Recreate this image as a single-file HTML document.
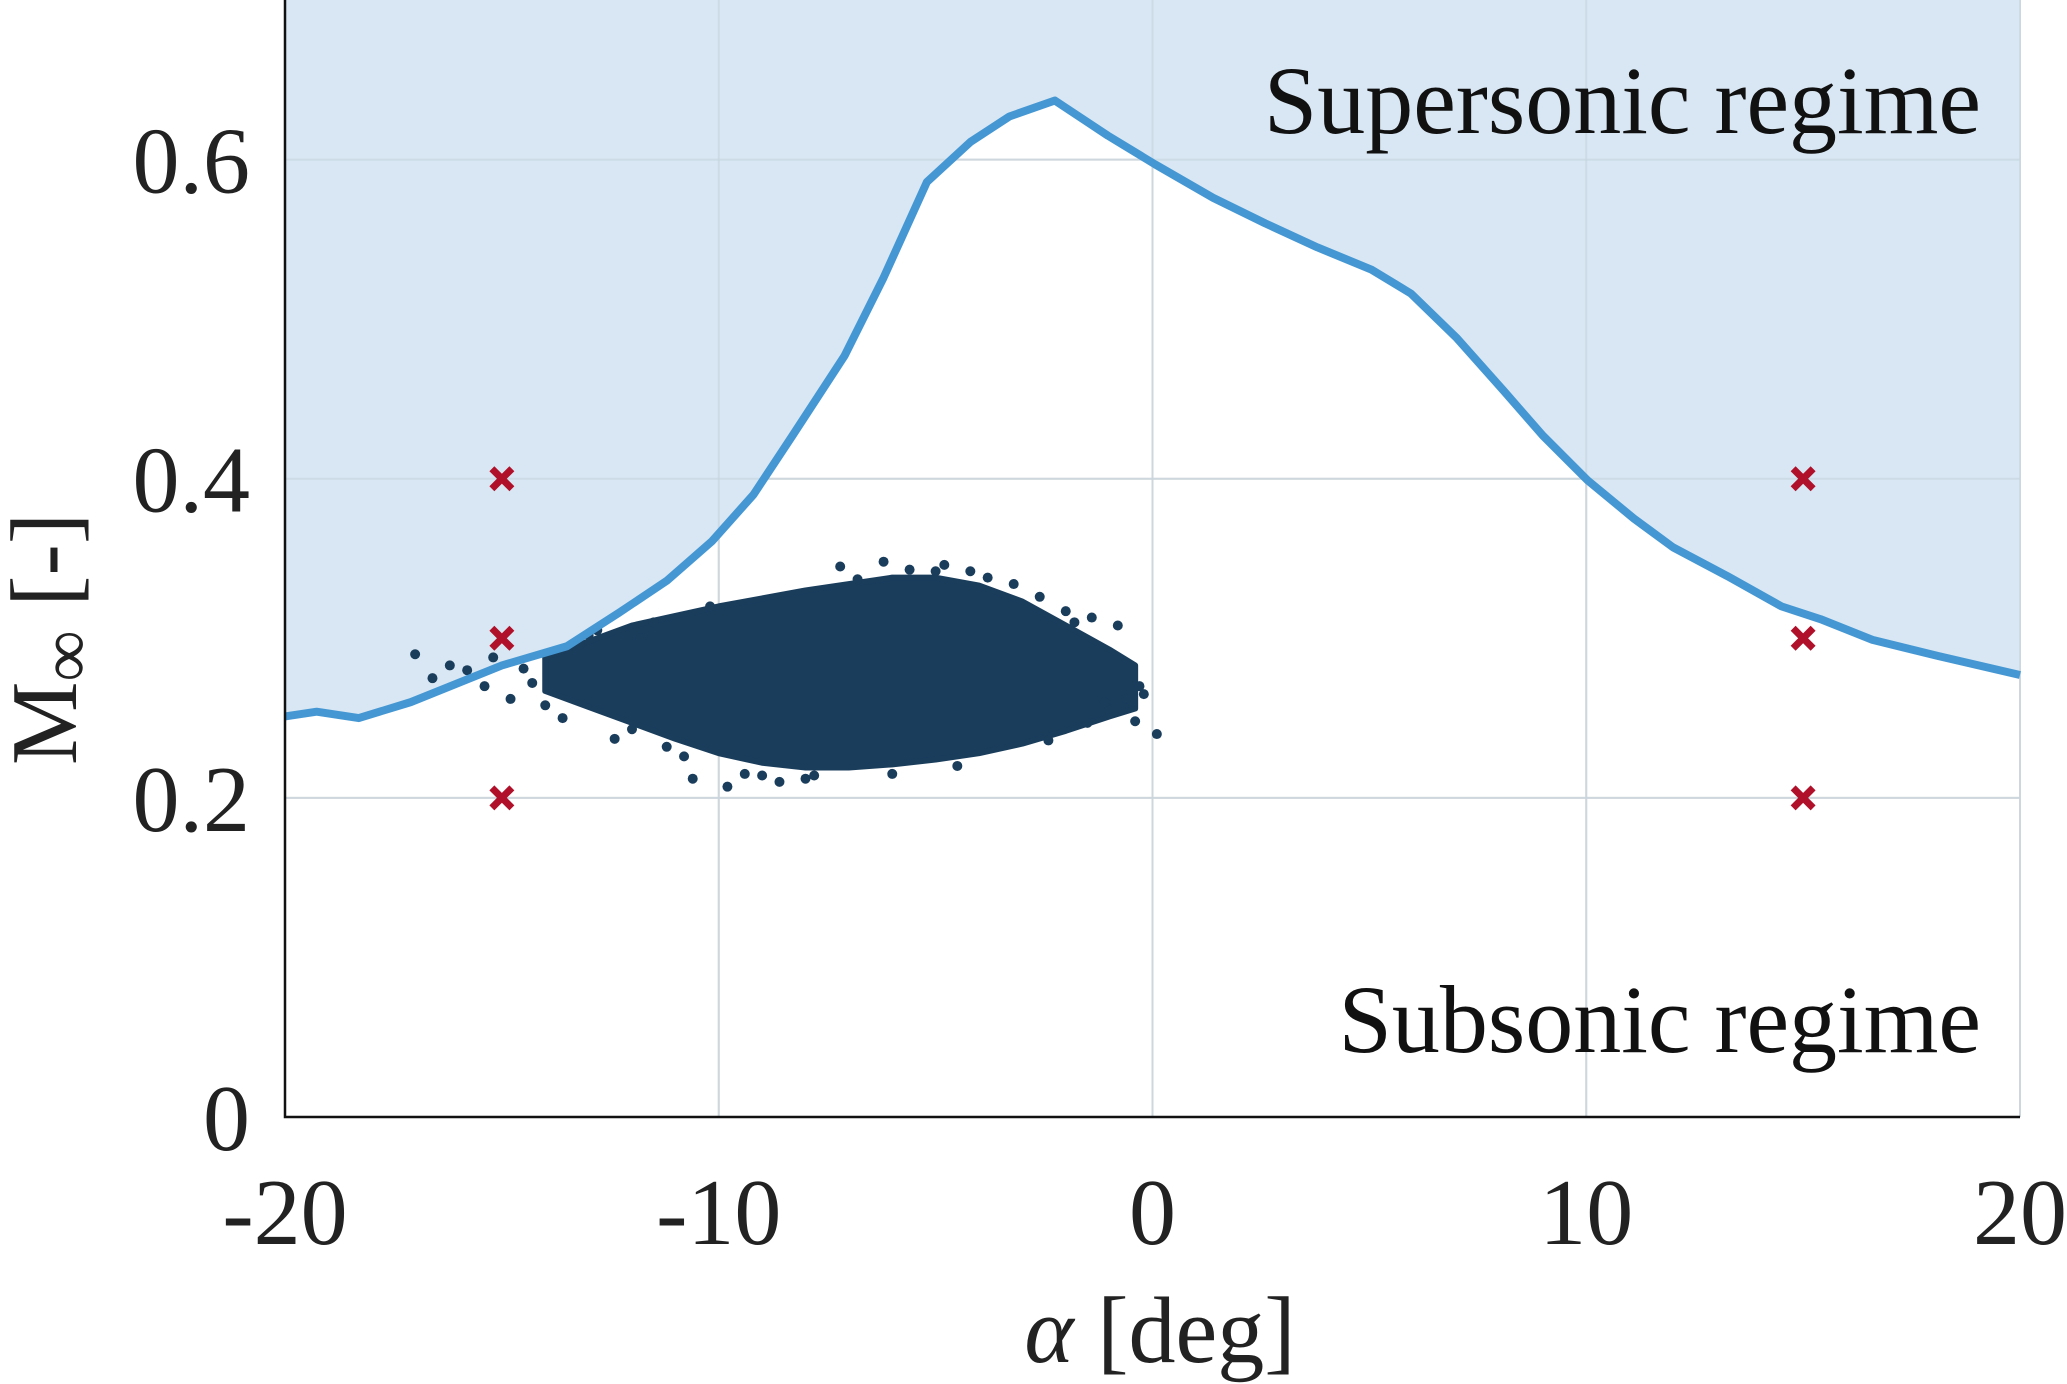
<!DOCTYPE html>
<html><head><meta charset="utf-8"><style>
html,body{margin:0;padding:0;background:#fff;}
svg{display:block;font-family:"Liberation Serif",serif;}
</style></head><body>
<svg id="chart" width="2067" height="1384" viewBox="0 0 2067 1384" xmlns="http://www.w3.org/2000/svg">
<g id="grid"></g>
<g id="region"></g>
<g id="marks"></g>
<g id="axes"></g>
<text x="1981" y="133" font-size="96" text-anchor="end" fill="#111">Supersonic regime</text>
<text x="1981" y="1052" font-size="96" text-anchor="end" fill="#111">Subsonic regime</text>
<text x="1160" y="1362" font-size="94" text-anchor="middle" fill="#222"><tspan font-style="italic">α</tspan> [deg]</text>
<text transform="translate(76,639) rotate(-90)" font-size="94" text-anchor="middle" fill="#222">M<tspan font-size="72" dy="14">∞</tspan><tspan dy="-14"> [-]</tspan></text>
</svg>
<script>
const xTicks=[-20,-10,0,10,20];
const yTicks=[0,0.2,0.4,0.6];
const yTickLabels=["0","0.2","0.4","0.6"];
const curveAlpha=[-20,-19.27,-18.3,-17.1,-15,-13.5,-12.3,-11.2,-10.15,-9.2,-8.3,-7.1,-6.2,-5.2,-4.2,-3.3,-2.25,-1.03,0.06,1.4,2.6,3.8,5.05,5.96,7.02,8.1,9.0,10.03,11.1,12.0,13.25,14.5,15.4,16.6,18.1,20];
const curveMach=[0.251,0.254,0.250,0.260,0.283,0.295,0.316,0.336,0.361,0.39,0.427,0.477,0.526,0.586,0.611,0.627,0.637,0.615,0.597,0.576,0.56,0.545,0.531,0.516,0.488,0.455,0.427,0.399,0.375,0.357,0.339,0.32,0.312,0.299,0.289,0.277];
const crossAlpha=[-15,-15,-15,15,15,15];
const crossMach=[0.2,0.3,0.4,0.2,0.3,0.4];
const blobAlpha=[-14,-13,-12,-11,-10,-9,-8,-7,-6,-5,-4,-3,-2,-1,-0.4];
const blobUpper=[0.288,0.298,0.308,0.314,0.32,0.325,0.33,0.334,0.338,0.338,0.333,0.323,0.308,0.293,0.283];
const blobLower=[0.267,0.257,0.247,0.237,0.228,0.222,0.219,0.219,0.221,0.224,0.228,0.234,0.242,0.251,0.256];
const outAlpha=[-17,-16.6,-16.2,-15.8,-15.4,-15.2,-14.8,-14.5,-14.3,-13.6,-12.4,-11.2,-10.6,-9.8,-9.4,-7.2,-6.2,-5.6,-4.8,-4.2,-3.2,-2.0,-1.4,-0.8,-0.3,0.1,-0.4,-1.1,-11.8,-12.8,-10.2,-8.6,-13.2,-14.0,-12.0,-10.8,-9.0,-8.0,-6.8,-5.0,-3.8,-2.6,-1.8,-0.6,-0.2,-1.5,-2.4,-13.0,-11.5,-7.8,-6.0,-4.5];
const outMach=[0.29,0.275,0.283,0.28,0.27,0.288,0.262,0.281,0.272,0.25,0.237,0.232,0.212,0.207,0.215,0.345,0.348,0.343,0.346,0.342,0.334,0.317,0.313,0.308,0.27,0.24,0.248,0.26,0.3,0.305,0.32,0.21,0.296,0.258,0.243,0.226,0.214,0.212,0.337,0.342,0.338,0.326,0.31,0.262,0.265,0.247,0.236,0.302,0.31,0.214,0.215,0.22];
const X0=285,X1=2020,Y0=1117,Y1=0;
const sx=a=>X0+(a+20)/40*(X1-X0);
const sy=m=>Y0-m/0.7*(Y0-Y1);
const NS="http://www.w3.org/2000/svg";
function mk(tag,parent,attrs){const e=document.createElementNS(NS,tag);for(const k in attrs)e.setAttribute(k,attrs[k]);parent.appendChild(e);return e;}
const grid=document.getElementById('grid'),region=document.getElementById('region'),marks=document.getElementById('marks'),axes=document.getElementById('axes');
xTicks.forEach(t=>{const l=mk('line',grid,{x1:sx(t),x2:sx(t),y1:Y0,y2:Y1,stroke:'#dcdcdc','stroke-width':2});


const tx=mk('text',axes,{x:sx(t),y:1244,'font-size':94,'text-anchor':'middle',fill:'#222'});tx.textContent=String(t);

});
yTicks.forEach((t,i)=>{const l=mk('line',grid,{x1:X0,x2:X1,y1:sy(t),y2:sy(t),stroke:'#dcdcdc','stroke-width':2});


const tx=mk('text',axes,{x:250,y:sy(t)+33,'font-size':94,'text-anchor':'end',fill:'#222'});tx.textContent=yTickLabels[i];

});
let pts=curveAlpha.map((a,i)=>sx(a)+','+sy(curveMach[i]));
const fill=mk('polygon',region,{points:sx(-20)+','+Y1+' '+pts.join(' ')+' '+sx(20)+','+Y1,fill:'#d8e7f3'});


xTicks.forEach(t=>{const l=mk('line',region,{x1:sx(t),x2:sx(t),y1:Y0,y2:Y1,stroke:'#c5d3de','stroke-width':2,'stroke-opacity':0.6});

});
yTicks.forEach(t=>{const l=mk('line',region,{x1:X0,x2:X1,y1:sy(t),y2:sy(t),stroke:'#c5d3de','stroke-width':2,'stroke-opacity':0.6});

});
let bp=blobAlpha.map((a,i)=>sx(a)+','+sy(blobUpper[i]));
for(let i=blobAlpha.length-1;i>=0;i--)bp.push(sx(blobAlpha[i])+','+sy(blobLower[i]));
const blob=mk('polygon',marks,{points:bp.join(' '),fill:'#1a3d5c',stroke:'#1a3d5c','stroke-width':6,'stroke-linejoin':'round'});


outAlpha.forEach((a,i)=>{const c=mk('circle',marks,{cx:sx(a),cy:sy(outMach[i]),r:5,fill:'#1a3d5c'});

});
const line=mk('polyline',marks,{points:pts.join(' '),fill:'none',stroke:'#4597d3','stroke-width':8,'stroke-linejoin':'round'});


crossAlpha.forEach((a,i)=>{const x=sx(a),y=sy(crossMach[i]),s=10;
const g=mk('path',marks,{d:`M${x-s},${y-s}L${x+s},${y+s}M${x-s},${y+s}L${x+s},${y-s}`,stroke:'#b0102a','stroke-width':7});

});
const ax=mk('path',axes,{d:`M${X0},${Y1}L${X0},${Y0}L${X1},${Y0}`,fill:'none',stroke:'#111','stroke-width':2.5});


</script>
</body></html>
